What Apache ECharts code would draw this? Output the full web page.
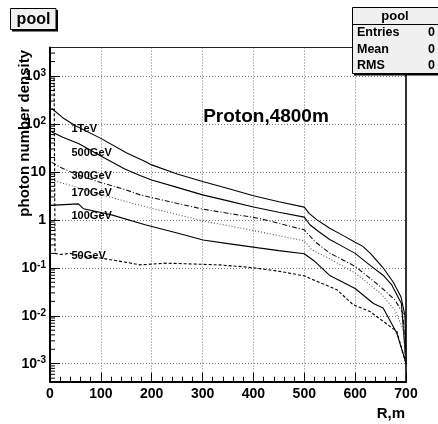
<!DOCTYPE html>
<html><head><meta charset="utf-8">
<script src="https://cdn.jsdelivr.net/npm/echarts@6/dist/echarts.min.js"></script>
<style>html,body{margin:0;padding:0;background:#fff}#c{width:438px;height:424px}</style>
</head><body><div id="c"></div>
<script>
const FONT = '"Liberation Sans", Arial, Helvetica, sans-serif';

// ---- data (R in m, photon number density) ----
const r1TeV = [3, 25, 50, 100, 150, 187, 200, 250, 300, 350, 400, 450, 500, 510, 525, 550, 575, 600, 615, 630, 655, 675, 690, 698, 700];
const d1TeV = [212, 135, 92, 50, 25, 16.5, 14, 9, 6.3, 4.5, 3.18, 2.39, 1.84, 1.35, 1.0, 0.67, 0.48, 0.34, 0.28, 0.2, 0.1, 0.05, 0.025, 0.01, 0.001];

const r500GeV = [3, 25, 56, 100, 147, 177, 200, 250, 300, 350, 400, 450, 500, 511, 530, 550, 575, 600, 632, 655, 672, 691, 700];
const d500GeV = [69, 53, 39, 21.5, 11.5, 8.4, 6.8, 4.75, 3.32, 2.49, 1.86, 1.44, 1.14, 0.79, 0.55, 0.39, 0.28, 0.2, 0.107, 0.07, 0.044, 0.018, 0.001];

const r300GeV = [3, 20, 50, 100, 150, 177, 200, 250, 301, 350, 410, 450, 500, 521, 551, 575, 600, 649, 678, 694, 700];
const d300GeV = [16, 12.5, 9, 6.0, 4.2, 3.32, 2.92, 2.2, 1.67, 1.37, 1.08, 0.845, 0.62, 0.35, 0.2, 0.148, 0.107, 0.041, 0.0215, 0.0113, 0.001];

const r170GeV = [3, 36, 100, 150, 187, 250, 301, 350, 410, 450, 500, 515, 551, 575, 600, 649, 678, 695, 700];
const d170GeV = [6.8, 5.4, 3.4, 2.4, 1.89, 1.29, 0.95, 0.757, 0.57, 0.468, 0.365, 0.237, 0.152, 0.11, 0.078, 0.03, 0.0133, 0.005, 0.001];

const r100GeV = [0, 56, 66, 121, 187, 250, 301, 350, 410, 450, 500, 521, 551, 600, 636, 655, 682, 694, 700];
const d100GeV = [2.0, 2.15, 1.7, 1.27, 0.79, 0.53, 0.38, 0.32, 0.26, 0.228, 0.196, 0.135, 0.068, 0.037, 0.018, 0.0145, 0.0043, 0.00167, 0.001];

const r50GeV = [8, 10, 20, 39, 70, 100, 150, 177, 229, 280, 334, 380, 403, 450, 500, 518, 564, 596, 629, 682, 700];
const d50GeV = [900, 0.2, 0.19, 0.2, 0.17, 0.16, 0.13, 0.115, 0.125, 0.12, 0.115, 0.105, 0.099, 0.085, 0.068, 0.056, 0.035, 0.017, 0.0123, 0.0047, 0.001];

const curveNames = ['1TeV', '500GeV', '300GeV', '170GeV', '100GeV', '50GeV'];
const xTickValues = [0, 100, 200, 300, 400, 500, 600, 700];
const statRows = [['Entries', '0'], ['Mean', '0'], ['RMS', '0']];
const histName = 'pool';
const plotTitle = 'Proton,4800m';
const xTitle = 'R,m';
const yTitle = 'photon number density';

// ---- build ----
const Y_MIN = Math.pow(10, -3.375), Y_MAX = Math.pow(10, 3.594);
const zip = (r, d) => r.map((x, i) => [x, d[i]]);
const curves = [
  [r1TeV, d1TeV, 'solid', '#000'],
  [r500GeV, d500GeV, 'solid', '#000'],
  [r300GeV, d300GeV, [5, 2, 1, 2], '#111'],
  [r170GeV, d170GeV, [1, 2], '#555'],
  [r100GeV, d100GeV, 'solid', '#000'],
  [r50GeV, d50GeV, [3, 2], '#000']
];
const minorVals = [];
for (let n = -4; n <= 3; n++) for (let k = 2; k <= 9; k++) {
  const v = k * Math.pow(10, n);
  if (v > Y_MIN && v < Y_MAX) minorVals.push([0, v]);
}
function yFmt(v) {
  const l = Math.log10(v), e = Math.round(l);
  if (Math.abs(l - e) > 0.01) return '';
  if (e === 0) return '1';
  if (e === 1) return '10';
  return '10{s|' + e + '}';
}
const series = curves.map((c, i) => ({
  name: curveNames[i], type: 'line', data: zip(c[0], c[1]),
  showSymbol: false, symbol: 'none', animation: false, silent: true,
  lineStyle: { color: c[3], width: 1.1, type: c[2] }, z: 3
}));
series.push({
  type: 'custom', data: minorVals, silent: true, animation: false, z: 4,
  renderItem: (params, api) => {
    const p = api.coord([0, api.value(1)]);
    return { type: 'line', shape: { x1: p[0], y1: p[1], x2: p[0] + 5, y2: p[1] },
      style: { stroke: '#000', lineWidth: 1 } };
  }
});

const labelYs = [128.5, 153, 176, 193, 216, 256];
const graphic = [];
curveNames.forEach((n, i) => graphic.push({ type: 'text', x: 71.5, y: labelYs[i], z: 10,
  style: { text: n, font: 'bold 11px ' + FONT, fill: '#000', align: 'left', verticalAlign: 'middle' } }));
graphic.push({ type: 'text', x: 266, y: 117, z: 10,
  style: { text: plotTitle, font: 'bold 19px ' + FONT, fill: '#000', align: 'center', verticalAlign: 'middle' } });
graphic.push({ type: 'text', x: 405, y: 414, z: 10,
  style: { text: xTitle, font: 'bold 15px ' + FONT, fill: '#000', align: 'right', verticalAlign: 'middle' } });
graphic.push({ type: 'text', x: 25, y: 50, rotation: Math.PI / 2, z: 10,
  style: { text: yTitle, font: 'bold 15px ' + FONT, fill: '#000', align: 'right', verticalAlign: 'middle' } });
// title box
graphic.push({ type: 'rect', shape: { x: 12, y: 10, width: 46, height: 21.5 }, style: { fill: '#000' }, z: 11 });
graphic.push({ type: 'rect', shape: { x: 10.5, y: 8.5, width: 45.5, height: 21 }, style: { fill: '#f0f0f0', stroke: '#000', lineWidth: 1 }, z: 12 });
graphic.push({ type: 'text', x: 33.5, y: 19.5, z: 13,
  style: { text: histName, font: 'bold 16px ' + FONT, fill: '#000', align: 'center', verticalAlign: 'middle' } });
// stats box
graphic.push({ type: 'rect', shape: { x: 354, y: 9.5, width: 90, height: 66 }, style: { fill: '#000' }, z: 11 });
graphic.push({ type: 'rect', shape: { x: 352.5, y: 7.5, width: 90, height: 66 }, style: { fill: '#f0f0f0', stroke: '#000', lineWidth: 1 }, z: 12 });
graphic.push({ type: 'line', shape: { x1: 352.5, y1: 24.5, x2: 438, y2: 24.5 }, style: { stroke: '#000', lineWidth: 1 }, z: 13 });
graphic.push({ type: 'text', x: 395, y: 16, z: 13,
  style: { text: histName, font: 'bold 13px ' + FONT, fill: '#000', align: 'center', verticalAlign: 'middle' } });
const rowYs = [33, 50, 66];
statRows.forEach((r, i) => {
  graphic.push({ type: 'text', x: 357, y: rowYs[i], z: 13,
    style: { text: r[0], font: 'bold 12.5px ' + FONT, fill: '#000', align: 'left', verticalAlign: 'middle' } });
  graphic.push({ type: 'text', x: 435, y: rowYs[i], z: 13,
    style: { text: r[1], font: 'bold 12.5px ' + FONT, fill: '#000', align: 'right', verticalAlign: 'middle' } });
});

const chart = echarts.init(document.getElementById('c'), null, { renderer: 'canvas' });
chart.setOption({
  animation: false,
  backgroundColor: '#fff',
  grid: { left: 50, right: 32, top: 47.5, bottom: 42.3, show: true, borderColor: '#222', borderWidth: 1, containLabel: false },
  xAxis: [{
    type: 'value', min: 0, max: 700, interval: 100,
    axisLine: { show: true, onZero: false, lineStyle: { color: '#000', width: 2 } },
    axisTick: { show: true, inside: true, length: 9, lineStyle: { color: '#000', width: 1 } },
    minorTick: { show: true, splitNumber: 5, length: 5, lineStyle: { color: '#000', width: 1 } },
    axisLabel: { margin: 5, fontSize: 14, fontWeight: 'bold', fontFamily: FONT, color: '#000',
      formatter: v => (xTickValues.indexOf(v) >= 0 ? String(v) : '') },
    splitLine: { show: true, lineStyle: { type: [1, 2], color: '#777', width: 1 } }
  }, {
    type: 'value', position: 'top', min: 0, max: 700, interval: 100,
    axisLine: { show: true, onZero: false, lineStyle: { color: '#222', width: 1 } },
    axisTick: { show: false }, axisLabel: { show: false }, splitLine: { show: false }
  }],
  yAxis: [{
    type: 'log', logBase: 10, min: Y_MIN, max: Y_MAX, splitNumber: 7,
    axisLine: { show: true, onZero: false, lineStyle: { color: '#000', width: 2 } },
    axisTick: { show: true, inside: true, length: 10, lineStyle: { color: '#000', width: 1 } },
    axisLabel: { margin: 4, showMinLabel: false, showMaxLabel: false, formatter: yFmt,
      fontSize: 14, fontWeight: 'bold', fontFamily: FONT, color: '#000', lineHeight: 16,
      rich: { s: { fontSize: 10, fontWeight: 'bold', fontFamily: FONT, color: '#000', lineHeight: 8, verticalAlign: 'top' } } },
    splitLine: { show: true, lineStyle: { type: [1, 2], color: '#777', width: 1 } }
  }, {
    type: 'log', logBase: 10, min: Y_MIN, max: Y_MAX, position: 'right',
    axisLine: { show: true, onZero: false, lineStyle: { color: '#333', width: 2 } },
    axisTick: { show: false }, axisLabel: { show: false }, splitLine: { show: false }
  }],
  series: series,
  graphic: graphic
});
</script>
</body></html>
